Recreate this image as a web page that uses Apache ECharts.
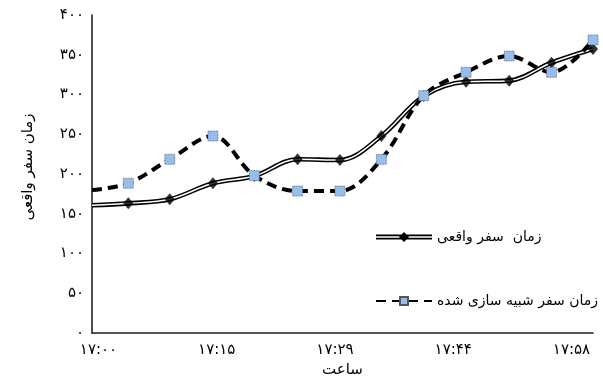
<!DOCTYPE html>
<html>
<head>
<meta charset="utf-8">
<script src="https://cdn.jsdelivr.net/npm/echarts@6/dist/echarts.min.js"></script>
<style>
  html, body { margin: 0; padding: 0; background: #fff; }
  #chart { width: 603px; height: 383px; }
</style>
</head>
<body>
<div id="chart"></div>
<script>
// Minutes after 17:00 for each observation
const timeMinutes = [0, 4.2, 9, 14, 18.8, 23.8, 28.7, 33.5, 38.4, 43.3, 48.3, 53.2, 58];
// Observed travel time
const realTravel = [160.6, 163.1, 168.2, 188.3, 197.5, 218.5, 217.6, 247.8, 298, 316, 317.4, 340, 357.2];
// Simulated travel time
const simTravel = [179.9, 188.3, 218.5, 247.8, 197.9, 178.6, 178.6, 218.5, 298.5, 327.9, 348.4, 327.9, 368.6];

const xTickLabels = ['۱۷:۰۰', '۱۷:۱۵', '۱۷:۲۹', '۱۷:۴۴', '۱۷:۵۸'];
const yTickLabels = ['۰', '۵۰', '۱۰۰', '۱۵۰', '۲۰۰', '۲۵۰', '۳۰۰', '۳۵۰', '۴۰۰'];

const realName = 'زمان  سفر واقعی';
const simName = 'زمان سفر شبیه سازی شده';
const xTitle = 'ساعت';
const yTitle = 'زمان سفر واقعی';

const FONT = 'DejaVu Sans';

const realPts = timeMinutes.map((t, i) => [t, realTravel[i]]);
const simPts = timeMinutes.map((t, i) => i === 0
  ? { value: [t, simTravel[i]], symbol: 'none' }
  : [t, simTravel[i]]);

// double line with a diamond, for the legend
const doubleLineIcon = 'path://M0 2.6H56V4.2H0Z M0 5.8H56V7.4H0Z M28 0L33 5L28 10L23 5Z';

const chart = echarts.init(document.getElementById('chart'), null, { renderer: 'canvas' });

chart.setOption({
  animation: false,
  backgroundColor: '#fff',
  textStyle: { fontFamily: FONT },
  grid: [
    { left: 92, right: 10, top: 15, bottom: 50 },
    // carries the time labels only
    { left: 98.5, right: 31.5, top: 15, bottom: 50 }
  ],
  xAxis: [
    {
      type: 'value', gridIndex: 0, min: 0, max: 58,
      splitLine: { show: false },
      axisTick: { show: false },
      axisLabel: { show: false },
      axisLine: { show: true, onZero: false, lineStyle: { color: '#222', width: 1.6 } },
      name: xTitle, nameLocation: 'middle', nameGap: 30,
      nameTextStyle: { color: '#000', fontSize: 15, fontFamily: FONT }
    },
    {
      type: 'value', gridIndex: 1, min: 0, max: 58, interval: 14.5,
      splitLine: { show: false },
      axisTick: { show: false },
      axisLine: { show: false },
      axisLabel: {
        show: true, margin: 10, color: '#000', fontSize: 15, fontFamily: FONT,
        formatter: v => xTickLabels[Math.round(v / 14.5)]
      }
    }
  ],
  yAxis: [
    {
      type: 'value', gridIndex: 0, min: 0, max: 400, interval: 50,
      splitLine: { show: false },
      axisTick: { show: false },
      axisLine: { show: true, lineStyle: { color: '#222', width: 1.6 } },
      axisLabel: {
        margin: 8, color: '#000', fontSize: 15, fontFamily: FONT,
        formatter: v => yTickLabels[Math.round(v / 50)]
      },
      name: yTitle, nameLocation: 'middle', nameGap: 56, nameRotate: 90,
      nameTextStyle: { color: '#000', fontSize: 15, fontFamily: FONT, padding: [0, 0, 0, 14] }
    },
    {
      type: 'value', gridIndex: 1, min: 0, max: 400, show: false
    }
  ],
  legend: {
    orient: 'vertical',
    left: 370, top: 223,
    itemWidth: 56, itemHeight: 10, itemGap: 46,
    selectedMode: false,
    textStyle: { color: '#000', fontSize: 14, fontFamily: FONT, lineHeight: 18 },
    data: [
      { name: realName, icon: doubleLineIcon, itemStyle: { color: '#000', borderWidth: 0 } },
      { name: simName }
    ]
  },
  series: [
    // observed: dark outer stroke
    {
      name: realName, type: 'line', xAxisIndex: 0, yAxisIndex: 0,
      data: realPts, smooth: 0.35, symbol: 'none', z: 2,
      itemStyle: { color: '#000' },
      lineStyle: { color: '#000', width: 4.6 }
    },
    // observed: white core giving the double line
    {
      name: realName, type: 'line', xAxisIndex: 0, yAxisIndex: 0,
      data: realPts, smooth: 0.35, symbol: 'none', z: 3,
      itemStyle: { color: '#fff' },
      lineStyle: { color: '#fff', width: 1.5 }
    },
    // observed: diamond markers
    {
      name: realName, type: 'scatter', xAxisIndex: 0, yAxisIndex: 0,
      data: realPts.slice(1), symbol: 'diamond', symbolSize: [10, 12], z: 4,
      itemStyle: { color: '#000' }
    },
    // simulated: dashed line with square markers
    {
      name: simName, type: 'line', xAxisIndex: 0, yAxisIndex: 0,
      data: simPts, smooth: 0.35, z: 5,
      symbol: 'rect', symbolSize: 10, showAllSymbol: true,
      itemStyle: { color: '#95BDEE', borderColor: '#555', borderWidth: 0.8, borderType: 'dotted' },
      lineStyle: { color: '#000', width: 4, type: [10, 6] }
    }
  ]
});
</script>
</body>
</html>
